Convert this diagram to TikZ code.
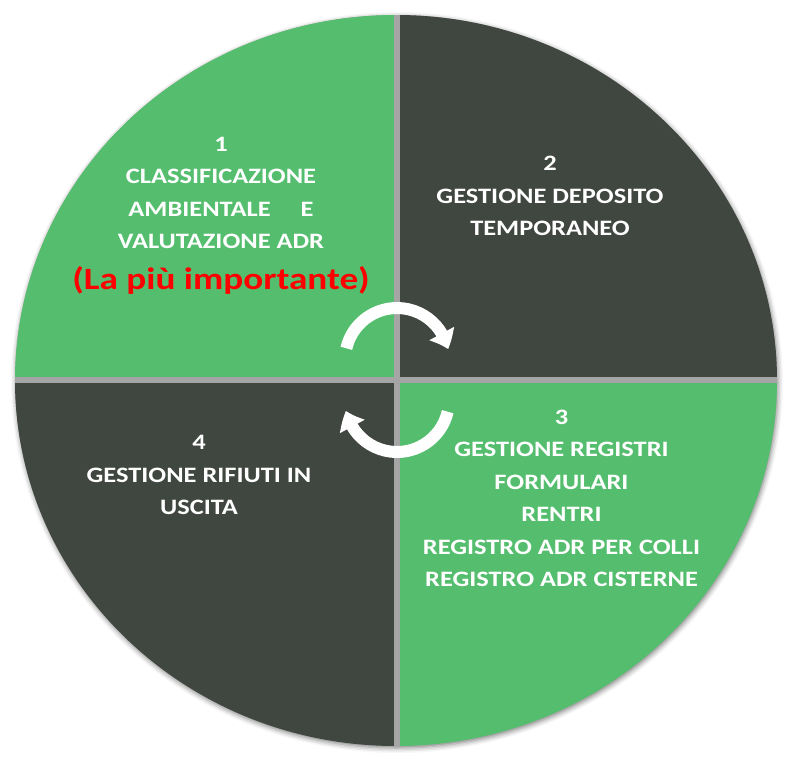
\documentclass[tikz,border=0pt]{standalone}
\usepackage{fontspec}
\setmainfont{Carlito}
\newfontfamily\quadfont{Carlito}[FakeStretch=1.2]
\usetikzlibrary{arrows.meta,bending,shadows.blur}
\definecolor{quadgreen}{HTML}{55BE6E}
\definecolor{quaddark}{HTML}{3F4740}
\definecolor{quadgap}{HTML}{A5A5A5}
\tikzset{
quadtext/.style={text=white, font=\quadfont\fontsize{22}{32.5}\selectfont\bfseries, align=center, inner sep=0pt},
cyclearrow/.pic={
  \draw[white, line width=12pt, -{Triangle[width=27pt,length=17pt,bend]}] (167:52) arc[start angle=167, end angle=12, radius=52];
  }
}
\begin{document}
\begin{tikzpicture}[x=1pt,y=1pt]
\useasboundingbox (-396,-380.5) rectangle (396,380.5);
\fill[quadgap, blur shadow={shadow xshift=1pt, shadow yshift=-2pt, shadow blur radius=5pt, shadow opacity=50}] (0,0) ellipse [x radius=381, y radius=365.5];
\begin{scope}
  \clip (0,0) ellipse [x radius=381, y radius=365.5];
  \fill[quadgreen] (-1.7,3.2) rectangle (-400,400);
  \fill[quaddark] (3.7,3.2) rectangle (400,400);
  \fill[quadgreen] (3.7,-2.2) rectangle (400,-400);
  \fill[quaddark] (-1.7,-2.2) rectangle (-400,-400);
\end{scope}
% quadrant texts
\node[quadtext] (q1) at (-175,187.5) {1\\CLASSIFICAZIONE\\AMBIENTALE\hspace{30pt}E\\VALUTAZIONE ADR};
\node[text=red, font=\quadfont\fontsize{31}{32}\selectfont\bfseries, inner sep=0pt] (imp) at (-175,100.5) {(La più importante)};
\node[quadtext] (q2) at (154,184.5) {2\\GESTIONE DEPOSITO\\TEMPORANEO};
\node[quadtext] (q3) at (165.5,-118) {3\\GESTIONE REGISTRI\\FORMULARI\\RENTRI\\REGISTRO ADR PER COLLI\\REGISTRO ADR CISTERNE};
\node[quadtext] (q4) at (-197,-94.5) {4\\GESTIONE RIFIUTI IN\\USCITA};
% cycle arrows
\pic at (1,20.5) {cyclearrow};
\pic[rotate=180] at (1,-19.5) {cyclearrow};
\end{tikzpicture}
\end{document}
